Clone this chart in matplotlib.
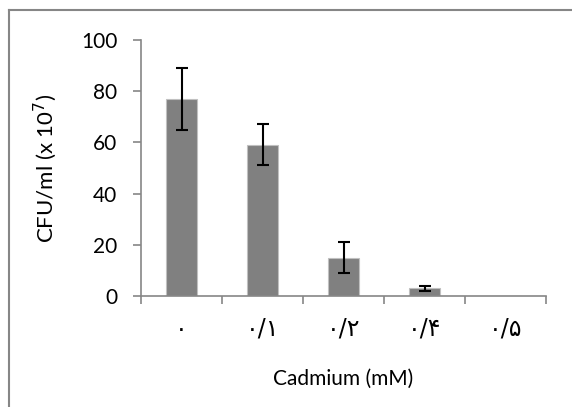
import matplotlib
matplotlib.use("Agg")
import matplotlib.pyplot as plt
from matplotlib.lines import Line2D

categories = ["۰", "۰/۱", "۰/۲", "۰/۴", "۰/۵"]
values = [77, 59, 15, 3, 0]
errors = [12, 8, 6, 1, 0]
yticks = [0, 20, 40, 60, 80, 100]

W, H = 572, 407
fig = plt.figure(figsize=(W / 100, H / 100), dpi=100)
ax = fig.add_axes([141 / W, 1 - 296 / H, (546 - 141) / W, (296 - 40) / H])

x = list(range(len(categories)))
ax.bar(x, values, width=0.39, color="#808080", edgecolor="#c0c0c0", linewidth=0.8, zorder=2)
ax.errorbar([i for i, v in zip(x, values) if v > 0],
            [v for v in values if v > 0],
            yerr=[e for e, v in zip(errors, values) if v > 0],
            fmt="none", ecolor="black", elinewidth=1.5, capsize=4.3, capthick=1.5, zorder=3)

ax.set_xlim(-0.5, len(categories) - 0.5)
ax.set_ylim(0, 100)
ax.set_yticks(yticks)
ax.set_yticklabels([str(t) for t in yticks], fontsize=15, family=["Lato", "DejaVu Sans"])
ax.set_xticks([i - 0.5 for i in range(len(categories) + 1)], minor=False)
ax.set_xticklabels([""] * (len(categories) + 1))
ax.set_xticks(x, minor=True)
ax.set_xticklabels(categories, minor=True, fontsize=17, family=["DejaVu Sans"])
ax.tick_params(axis="x", which="minor", length=0, pad=15)
ax.tick_params(axis="x", which="major", length=6, width=1.2, color="#868686", direction="out")
ax.tick_params(axis="y", length=6, width=1.2, color="#868686", direction="out", pad=11)

for s in ["top", "right"]:
    ax.spines[s].set_visible(False)
for s in ["left", "bottom"]:
    ax.spines[s].set_color("#868686")
    ax.spines[s].set_linewidth(1.2)

fig.text(343 / W, 1 - 379 / H, "Cadmium (mM)", ha="center", va="center", fontsize=15,
         family=["Lato", "DejaVu Sans"])
fig.text(45 / W, 1 - 168 / H, "CFU/ml (x 10$^{7}$)", ha="center", va="center", fontsize=16,
         rotation=90, family=["Lato", "DejaVu Sans"])

# chart area border (left and top edges visible)
fig.add_artist(Line2D([8.5 / W, 8.5 / W], [0, 1 - 10 / H], color="#868686", lw=1.5, transform=fig.transFigure))
fig.add_artist(Line2D([8.5 / W, 1], [1 - 10 / H, 1 - 10 / H], color="#868686", lw=1.5, transform=fig.transFigure))

fig.savefig("out.png", dpi=100)
